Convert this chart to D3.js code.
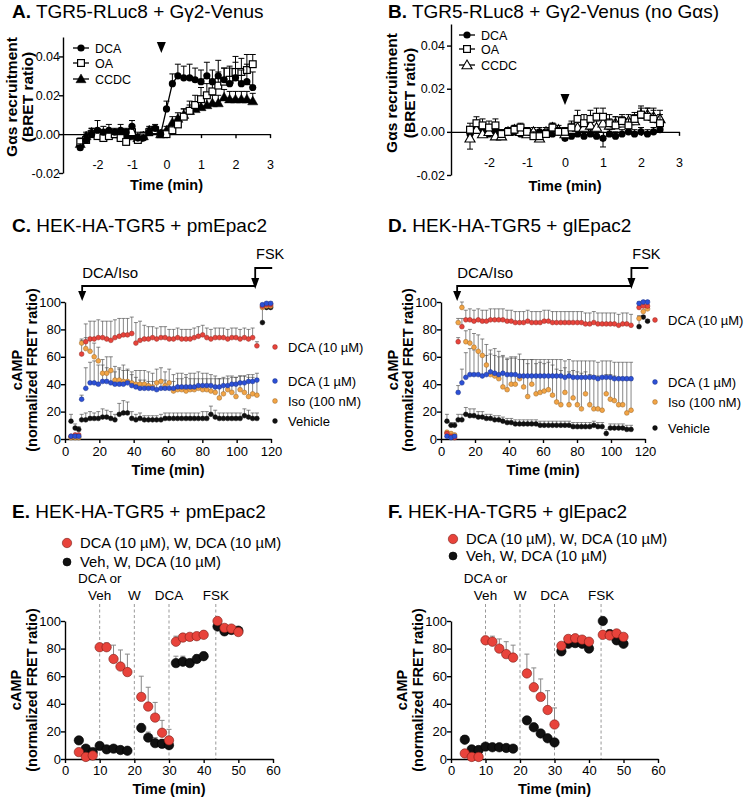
<!DOCTYPE html>
<html><head><meta charset="utf-8">
<script src="https://cdn.jsdelivr.net/npm/d3@7"></script>
<style>
body{margin:0;background:#fff;}
svg{display:block;font-family:"Liberation Sans",Arial,Helvetica,sans-serif;}
</style></head><body>
<svg id="chart" width="745" height="800"></svg>
<script>
// ---------------- DATA ----------------
// Panels A/B: BRET time courses (min)
const timeAB = [-2.5,-2.33,-2.17,-2.0,-1.83,-1.67,-1.5,-1.33,-1.17,-1.0,-0.83,-0.67,-0.5,-0.33,-0.17,0,0.17,0.33,0.5,0.67,0.83,1.0,1.17,1.33,1.5,1.67,1.83,2.0,2.17,2.33,2.5];
const A_DCA = [-0.007,-0.003,0.000,0.002,0.001,0.002,0.001,0.002,0.001,0.004,-0.002,-0.002,0.001,0.003,0.000,0.013,0.026,0.030,0.029,0.029,0.028,0.027,0.030,0.027,0.030,0.028,0.026,0.029,0.026,0.027,0.024];
const A_DCA_err = [0.002,0.003,0.003,0.005,0.003,0.003,0.002,0.003,0.002,0.003,0.003,0.002,0.002,0.002,0.002,0.004,0.005,0.006,0.006,0.007,0.006,0.006,0.007,0.006,0.008,0.006,0.008,0.008,0.007,0.009,0.008];
const A_OA = [-0.004,-0.003,0.000,-0.001,-0.002,-0.001,0.000,-0.002,-0.004,0.001,-0.003,-0.001,0.001,0.002,0.000,0.000,0.002,0.005,0.009,0.012,0.015,0.018,0.020,0.022,0.025,0.027,0.028,0.032,0.032,0.033,0.036];
const A_OA_err = [0.002,0.002,0.002,0.002,0.002,0.002,0.002,0.002,0.002,0.002,0.002,0.002,0.002,0.002,0.002,0.002,0.003,0.004,0.004,0.005,0.005,0.006,0.006,0.006,0.007,0.007,0.007,0.008,0.007,0.008,0.005];
const A_CCDC = [-0.005,-0.001,0.001,0.001,-0.001,0.000,0.000,0.000,-0.001,-0.001,-0.002,-0.001,0.002,0.002,0.000,0.002,0.006,0.008,0.010,0.012,0.013,0.014,0.015,0.016,0.016,0.019,0.018,0.018,0.018,0.018,0.017];
const A_CCDC_err = [0.002,0.002,0.002,0.002,0.002,0.002,0.002,0.002,0.002,0.002,0.002,0.002,0.002,0.002,0.002,0.002,0.003,0.003,0.003,0.003,0.003,0.004,0.004,0.004,0.004,0.004,0.004,0.004,0.004,0.004,0.004];
const B_DCA = [-0.001,0.001,0.001,-0.001,0.000,-0.001,0.000,0.000,-0.001,0.000,-0.001,0.000,0.000,-0.001,0.000,-0.003,-0.002,-0.001,-0.002,-0.001,-0.002,-0.003,-0.001,-0.002,-0.001,0.000,-0.001,0.000,-0.001,0.000,0.001];
const B_DCA_err = [0.002,0.002,0.002,0.002,0.002,0.002,0.002,0.002,0.002,0.002,0.002,0.002,0.002,0.002,0.002,0.002,0.002,0.002,0.002,0.002,0.002,-0.004,0.002,0.002,0.002,0.002,0.002,0.002,0.002,0.002,0.002];
const B_OA = [0.001,0.004,0.003,0.002,0.003,-0.001,0.000,0.001,0.002,0.000,-0.002,-0.002,-0.001,0.002,0.000,0.000,0.002,0.006,0.004,0.006,0.007,0.007,0.004,0.003,0.005,0.003,0.006,0.008,0.007,0.006,0.004];
const B_OA_err = [0.003,0.003,0.003,0.003,0.003,0.002,0.002,0.002,0.002,0.002,0.002,0.002,0.002,0.002,0.002,0.002,0.003,0.004,0.004,0.004,0.004,0.004,0.004,0.004,0.003,0.003,0.003,0.004,0.004,0.005,0.004];
const B_CCDC = [-0.003,0.001,-0.001,0.000,-0.002,-0.002,0.000,0.001,0.000,-0.001,0.000,-0.003,0.000,0.002,0.001,-0.001,0.001,0.002,0.002,0.003,0.002,0.004,0.003,0.004,0.004,0.005,0.005,0.008,0.008,0.007,0.006];
const B_CCDC_err = [-0.005,0.002,0.002,0.002,0.002,0.002,0.002,0.002,0.002,0.002,0.002,0.002,0.002,0.002,0.002,0.002,0.003,0.003,0.003,0.003,0.003,0.003,0.003,0.003,0.003,0.003,0.003,0.003,0.003,0.003,0.004];
const stimA = -0.15, stimB = 0;
const abXTicks = [-2,-1,0,1,2,3];
const abYTicks = [-0.02,0,0.02,0.04];
const abSeriesNames = ["DCA","OA","CCDC"];

// Panels C/D: Epac2 FRET time courses (min)
const timeC = [3.5,5.9,8.0,9.7,12.1,14.6,17.0,19.4,21.9,24.3,26.7,29.1,31.6,34.0,36.4,38.9,41.3,43.7,46.2,48.6,51.0,53.4,55.9,58.3,60.7,63.2,65.6,68.0,70.5,72.9,75.3,77.7,80.2,82.6,85.0,87.5,89.9,92.3,94.8,97.2,99.6,102.0,104.5,106.9,109.3,111.8,115.0,117.4,119.8];
const timeD = [3.5,5.9,8.0,10.1,12.3,14.6,17.0,19.4,21.9,24.3,26.7,29.1,31.6,34.0,36.4,38.9,41.3,43.7,46.2,48.6,51.0,53.4,55.9,58.3,60.7,63.2,65.6,68.0,70.5,72.9,75.3,77.7,80.2,82.6,85.0,87.5,89.9,92.3,94.8,97.2,99.6,102.0,104.5,106.9,109.3,111.8,116.5,119.0,121.5];
const C_DCA10 = [2,3,3,62,71,73,73,74,74,73,72,74,75,76,76,77,70,72,73,73,74,73,74,74,73,73,74,73,73,73,74,75,76,74,73,74,74,74,73,74,74,73,74,73,74,68,97,98,98];
const C_DCA10_err = [0,0,0,10,13,13,13,13,12,13,14,13,13,12,12,12,15,14,10,9,8,8,8,8,7,7,7,7,7,7,7,7,7,7,7,7,7,7,7,7,7,7,7,7,7,3,1,1,1];
const C_DCA1 = [2,2,2,29,37,41,41,40,42,42,41,40,40,40,41,39,38,37,37,37,37,36,37,37,37,37,38,38,38,38,38,39,39,39,39,38,38,39,39,40,40,41,41,42,42,43,98,99,99];
const C_DCA1_err = [0,0,0,3,15,15,16,14,12,10,10,9,12,14,10,8,7,6,6,5,5,6,6,6,5,5,6,6,7,6,6,5,5,5,5,6,6,5,5,5,5,5,5,5,5,5,1,1,1];
const C_Iso = [1,1,1,70,66,64,60,57,48,48,50,43,43,42,42,41,40,40,40,39,38,41,42,39,41,35,36,36,35,36,36,37,36,36,35,34,30,33,36,34,31,36,34,31,33,32,96,97,97];
const C_Iso_err = [0,0,0,3,8,8,10,10,10,12,10,10,8,8,8,8,10,10,10,10,10,10,10,10,10,12,12,12,12,12,12,12,12,12,12,12,14,12,10,12,14,10,12,14,12,12,1,1,1];
const C_Veh = [13,8,7,14,14,15,15,15,16,16,15,14,18,19,19,15,14,15,14,14,14,14,14,15,15,15,15,15,15,15,15,15,15,15,18,16,15,15,15,15,15,15,17,16,15,15,85,96,96];
const C_Veh_err = [5,3,2,4,5,5,4,5,6,5,5,4,8,9,8,5,4,4,3,3,3,3,4,4,4,4,4,4,4,4,4,4,5,5,6,5,4,4,4,4,4,4,5,5,4,4,12,1,1];
const D_DCA10 = [4,2,1,71,82,87,87,86,87,86,86,87,87,87,87,86,86,85,85,85,86,85,85,85,86,86,85,85,85,85,85,85,85,85,84,84,85,84,84,84,84,84,83,84,84,83,96,97,97];
const D_DCA10_err = [0,0,0,3,6,7,8,8,8,8,8,8,8,8,8,8,8,8,8,8,8,8,8,8,8,8,8,8,8,8,8,8,8,8,8,8,8,8,8,8,8,8,8,8,8,8,1,1,1];
const D_DCA1 = [2,1,2,34,41,45,47,47,47,46,47,49,48,47,48,47,47,47,46,46,46,46,46,46,46,46,46,46,46,45,46,45,45,45,45,45,45,44,45,45,45,44,44,44,44,44,99,100,100];
const D_DCA1_err = [0,0,0,5,10,18,19,18,17,15,14,13,13,13,13,12,12,12,12,12,12,12,12,12,12,12,12,12,12,12,12,12,12,12,12,12,12,12,12,12,12,12,12,12,12,12,1,1,1];
const D_Iso = [5,4,3,85,96,71,70,67,64,61,54,47,46,44,38,36,40,40,44,38,31,40,33,34,35,36,32,27,25,34,25,30,25,22,33,25,22,22,21,33,29,28,25,25,19,21,88,93,95];
const D_Iso_err = [0,0,0,3,4,8,10,10,12,12,15,18,20,20,22,22,20,20,18,20,24,18,22,22,20,20,22,24,25,18,24,20,24,26,16,22,24,24,24,14,18,18,20,20,24,22,1,1,1];
const D_Veh = [13,10,10,14,14,18,17,17,16,16,15,15,14,14,13,12,12,11,11,11,11,11,11,10,10,10,10,10,10,10,10,9,9,9,9,9,10,9,9,4,8,8,8,8,7,7,82,89,86];
const D_Veh_err = [5,2,2,4,4,5,5,5,4,4,3,3,3,3,3,3,3,3,3,3,3,3,3,3,3,3,3,3,3,3,3,3,3,3,3,3,3,3,3,3,3,3,3,3,3,3,8,1,1];
const cdLegend = ["DCA (10 µM)","DCA (1 µM)","Iso (100 nM)","Vehicle"];
const stimC = [10, 110.8], stimD = [9.5, 112];
const cdXTicks = [0,20,40,60,80,100,120];
const cdYTicks = [0,20,40,60,80,100];

// Panels E/F: washout experiments
const timeEF = [4,6,8,10,12,14,16,18,22,24,26,28,30,32,34,36,38,40,44,46,48,50];
const E_red = [5,1.5,2.5,81,81,72.5,67,63,45,38,30,19,13.5,85,88,88.5,89,90,100,95,94.5,92];
const E_red_err = [0,0,0,0,3,10,12,13,15,14,11,9,8,4,2,1,1,1,0,0,0,0];
const E_black = [13.5,7.5,5,9.5,7,7.5,6.5,6,22.5,15.5,11.5,11,10,69.5,70.5,69.5,72.5,74.5,96,92.5,93.5,93];
const E_black_err = [0,0,0,2.5,0,0,0,0,3,4,4,3,0,5,4,3,3,3,0,0,0,0];
const F_red = [4,1.5,1.5,86,85,80,76,73.5,62,52,45,35.5,25,82,87,87.5,86.5,85,90,89.5,91,88.5];
const F_red_err = [0,0,0,1,4,7,9,9,14,14,13,14,12,2,1,1,1,1,0,3,1,1];
const F_black = [14,7,6.5,9,8.5,8.5,8,7.5,28,23,18.5,15,12,78,83.5,84,83.5,80,100,90.5,86,83.5];
const F_black_err = [3,0,0,1,0,0,0,0,0,0,0,0,1,0,0,0,0,0,0,3,0,0];
const efLegend = ["DCA (10 µM), W, DCA (10 µM)","Veh, W, DCA (10 µM)"];
const efStim = [10,20,30,43.5];
const efStimLabels = [["DCA or","Veh"],["W"],["DCA"],["FSK"]];
const efXTicks = [0,10,20,30,40,50,60];
const efYTicks = [0,20,40,60,80,100];

// ---------------- DRAWING ----------------
const FONT = '"Liberation Sans", Arial, Helvetica, sans-serif';
const svg = d3.select("#chart");
const RED = "#e8433b", ORANGE = "#f2a445", BLUE = "#2c50d6", BLACK = "#111111";

function title(x, y, letter, rest) {
  const t = svg.append("text").attr("x", x).attr("y", y).attr("font-size", 19).attr("fill", "#000");
  t.append("tspan").attr("font-weight", "bold").text(letter);
  t.append("tspan").text(rest);
}

function axes(xs, ys, o) {
  const gx = svg.append("g").attr("transform", `translate(0,${o.xAxisAt})`)
    .call(d3.axisBottom(xs).tickValues(o.xTicks).tickFormat(o.xFmt).tickSize(4).tickSizeOuter(0));
  gx.selectAll("text").attr("y", o.xLabOff).attr("dy", "0.35em");
  const gy = svg.append("g").attr("transform", `translate(${xs.range()[0]},0)`)
    .call(d3.axisLeft(ys).tickValues(o.yTicks).tickFormat(o.yFmt).tickSize(4).tickSizeOuter(0));
  gy.selectAll("text").attr("x", o.yLabX);
  [gx, gy].forEach(g => {
    g.attr("font-family", null).attr("font-size", null);
    g.selectAll("text").attr("font-size", o.fs).attr("fill", "#000").style("font-family", FONT);
    g.select(".domain").attr("stroke", "#000").attr("stroke-width", 1.4);
    g.selectAll(".tick line").attr("stroke", "#000").attr("stroke-width", 1.4);
  });
}

function xTitle(xs, y) {
  const r = xs.range();
  svg.append("text").attr("x", (r[0] + r[1]) / 2).attr("y", y).attr("text-anchor", "middle")
    .attr("font-weight", "bold").attr("font-size", 14.5).text("Time (min)");
}
function yTitle(lines, xsPos, yc, fs) {
  lines.forEach((l, i) => svg.append("text")
    .attr("transform", `translate(${xsPos[i]},${yc}) rotate(-90)`)
    .attr("text-anchor", "middle").attr("dy", "0.35em")
    .attr("font-weight", "bold").attr("font-size", fs).text(l));
}

function errBars(xs, ys, t, v, e, color, cap, sw) {
  const g = svg.append("g").attr("stroke", color).attr("stroke-width", sw).attr("fill", "none");
  t.forEach((tt, i) => {
    if (!e[i]) return;
    const x = xs(tt), y0 = ys(v[i]), y1 = ys(v[i] + e[i]);
    g.append("line").attr("x1", x).attr("x2", x).attr("y1", y0).attr("y2", y1);
    g.append("line").attr("x1", x - cap).attr("x2", x + cap).attr("y1", y1).attr("y2", y1);
  });
}

function marker(g, kind, x, y) {
  if (kind === "circle") g.append("circle").attr("cx", x).attr("cy", y).attr("r", 3.6).attr("fill", "#000");
  else if (kind === "square") g.append("rect").attr("x", x - 3.4).attr("y", y - 3.4).attr("width", 6.8).attr("height", 6.8).attr("fill", "#fff").attr("stroke", "#000").attr("stroke-width", 1.2);
  else {
    const open = kind === "triOpen";
    g.append("path").attr("d", d3.symbol(d3.symbolTriangle, 44)()).attr("transform", `translate(${x},${y + 0.8})`)
      .attr("fill", open ? "#fff" : "#000").attr("stroke", "#000").attr("stroke-width", open ? 1.1 : 0.5);
  }
}

function bretSeries(xs, ys, t, v, e, kind) {
  errBars(xs, ys, t, v, e, "#000", 3, 1);
  svg.append("path").attr("d", d3.line().x((d, i) => xs(t[i])).y(d => ys(d))(v))
    .attr("fill", "none").attr("stroke", "#000").attr("stroke-width", 1.3);
  const g = svg.append("g");
  t.forEach((tt, i) => marker(g, kind, xs(tt), ys(v[i])));
}

function bretPanel(o) {
  const xs = d3.scaleLinear().domain([-3, 3]).range(o.xr);
  const ys = d3.scaleLinear().domain([-0.02, 0.05]).range(o.yr);
  axes(xs, ys, {xAxisAt: ys(0), xTicks: abXTicks, yTicks: abYTicks, xFmt: d => String(d),
    yFmt: d => d.toFixed(2), xLabOff: o.xLabY - ys(0), yLabX: o.yLabX, fs: 12.5});
  o.drawOrder.forEach(k => { const s = o.series[k]; bretSeries(xs, ys, timeAB, s.v, s.e, s.kind); });
  const ax = xs(o.stim), ay = o.arrowY;
  svg.append("path").attr("d", `M${ax - 4.5},${ay - 6} L${ax + 4.5},${ay - 6} L${ax},${ay + 5} Z`).attr("fill", "#000");
  o.series.forEach((s, i) => {
    const ly = o.legY[i];
    svg.append("line").attr("x1", o.legX - 8).attr("x2", o.legX + 8).attr("y1", ly).attr("y2", ly).attr("stroke", "#000").attr("stroke-width", 1.3);
    marker(svg, s.kind, o.legX, ly);
    svg.append("text").attr("x", o.legX + 14).attr("y", ly + 4.5).attr("font-size", 12.5).text(abSeriesNames[i]);
  });
  xTitle(xs, o.xTitleY);
  yTitle(["Gαs recruitment", "(BRET ratio)"], o.yTitleX, o.yTitleC, 15.5);
}

function epacPanel(o) {
  const xs = d3.scaleLinear().domain([0, 120]).range(o.xr);
  const ys = d3.scaleLinear().domain([0, 100]).range([439, 302]);
  axes(xs, ys, {xAxisAt: 439, xTicks: cdXTicks, yTicks: cdYTicks, xFmt: d => String(d), yFmt: d => String(d), xLabOff: 12, yLabX: -4, fs: 13});
  o.series.forEach(s => errBars(xs, ys, o.t, s.v, s.e, "#555", 2, 0.7));
  o.series.forEach(s => {
    const g = svg.append("g");
    o.t.forEach((tt, i) => g.append("circle").attr("cx", xs(tt)).attr("cy", ys(s.v[i])).attr("r", 2.4)
      .attr("fill", s.c).attr("stroke", d3.color(s.c).darker(1.3)).attr("stroke-width", 0.5));
  });
  o.legend.forEach((l, i) => {
    svg.append("circle").attr("cx", o.legX).attr("cy", l.y).attr("r", 2.4).attr("fill", l.c)
      .attr("stroke", d3.color(l.c).darker(1.3)).attr("stroke-width", 0.5);
    svg.append("text").attr("x", o.legX + 13).attr("y", l.y + 4.5).attr("font-size", 13).text(cdLegend[i]);
  });
  const x1 = xs(o.stim[0]), x2 = xs(o.stim[1]);
  svg.append("path").attr("d", `M${x1},292 V286 H${x2} M${x2},279 V268 H${x2 + 17}`)
    .attr("fill", "none").attr("stroke", "#000").attr("stroke-width", 1.8);
  svg.append("path").attr("d", `M${x1 - 4},291 L${x1 + 4},291 L${x1},301 Z M${x2 - 4},278 L${x2 + 4},278 L${x2},289 Z`).attr("fill", "#000");
  svg.append("text").attr("x", x1).attr("y", 278).attr("font-size", 15).text("DCA/Iso");
  svg.append("text").attr("x", x2 + 15).attr("y", 259).attr("text-anchor", "middle").attr("font-size", 14.5).text("FSK");
  xTitle(xs, 475);
  const ax = o.xr[0];
  yTitle(["cAMP", "(normalized FRET ratio)"], [ax - 48, ax - 33], 370, 14.5);
}

function washPanel(o) {
  const xs = d3.scaleLinear().domain([0, 60]).range(o.xr);
  const ys = d3.scaleLinear().domain([0, 100]).range([759, 621]);
  efStim.forEach((s, i) => {
    svg.append("line").attr("x1", xs(s)).attr("x2", xs(s)).attr("y1", 604).attr("y2", 759)
      .attr("stroke", "#999").attr("stroke-width", 1).attr("stroke-dasharray", "3,2.5");
    const lab = efStimLabels[i];
    lab.forEach((l, j) => svg.append("text").attr("x", xs(s)).attr("y", 600 - (lab.length - 1 - j) * 17)
      .attr("text-anchor", "middle").attr("font-size", 13.5).text(l));
  });
  axes(xs, ys, {xAxisAt: 759, xTicks: efXTicks, yTicks: efYTicks, xFmt: d => String(d), yFmt: d => String(d), xLabOff: 11, yLabX: -4, fs: 13});
  o.series.forEach(s => errBars(xs, ys, timeEF, s.v, s.e, "#888", 2.5, 1));
  o.series.forEach(s => {
    const g = svg.append("g");
    timeEF.forEach((tt, i) => g.append("circle").attr("cx", xs(tt)).attr("cy", ys(s.v[i])).attr("r", 4.7)
      .attr("fill", s.c).attr("stroke", s.c === RED ? "#7a1c16" : "#000").attr("stroke-width", 0.6));
  });
  [RED, BLACK].forEach((c, i) => {
    const ly = o.legY[i];
    svg.append("circle").attr("cx", o.legX).attr("cy", ly).attr("r", c === RED ? 4.7 : 4).attr("fill", c)
      .attr("stroke", c === RED ? "#7a1c16" : "#000").attr("stroke-width", 0.6);
    svg.append("text").attr("x", o.legX + 13).attr("y", ly + 5).attr("font-size", 14.8).text(efLegend[i]);
  });
  xTitle(xs, 794);
  const ax = o.xr[0];
  yTitle(["cAMP", "(normalized FRET ratio)"], [ax - 49, ax - 33], 690, 14.5);
}

title(12, 18, "A.", " TGR5-RLuc8 + Gγ2-Venus");
title(388, 18, "B.", " TGR5-RLuc8 + Gγ2-Venus (no Gαs)");
title(12, 232, "C.", " HEK-HA-TGR5 + pmEpac2");
title(388, 232, "D.", " HEK-HA-TGR5 + glEpac2");
title(12, 518, "E.", " HEK-HA-TGR5 + pmEpac2");
title(388, 518, "F.", " HEK-HA-TGR5 + glEpac2");

bretPanel({xr: [63, 270], yr: [173, 37], xLabY: 165, stim: stimA, arrowY: 48, yLabX: -3,
  series: [{v: A_DCA, e: A_DCA_err, kind: "circle"}, {v: A_OA, e: A_OA_err, kind: "square"}, {v: A_CCDC, e: A_CCDC_err, kind: "tri"}],
  drawOrder: [2, 1, 0], legX: 81, legY: [48, 63, 79], xTitleY: 190, yTitleX: [12, 28], yTitleC: 97});
bretPanel({xr: [451, 679], yr: [175, 24], xLabY: 163, stim: stimB, arrowY: 100, yLabX: -6,
  series: [{v: B_DCA, e: B_DCA_err, kind: "circle"}, {v: B_OA, e: B_OA_err, kind: "square"}, {v: B_CCDC, e: B_CCDC_err, kind: "triOpen"}],
  drawOrder: [0, 2, 1], legX: 467, legY: [35, 49, 65], xTitleY: 191, yTitleX: [392, 410], yTitleC: 93});

epacPanel({xr: [65, 271], t: timeC, stim: stimC, legX: 275,
  series: [{v: C_Veh, e: C_Veh_err, c: BLACK}, {v: C_Iso, e: C_Iso_err, c: ORANGE}, {v: C_DCA10, e: C_DCA10_err, c: RED}, {v: C_DCA1, e: C_DCA1_err, c: BLUE}],
  legend: [{y: 347, c: RED}, {y: 381, c: BLUE}, {y: 401, c: ORANGE}, {y: 421, c: BLACK}]});
epacPanel({xr: [441, 645], t: timeD, stim: stimD, legX: 655,
  series: [{v: D_Veh, e: D_Veh_err, c: BLACK}, {v: D_Iso, e: D_Iso_err, c: ORANGE}, {v: D_DCA10, e: D_DCA10_err, c: RED}, {v: D_DCA1, e: D_DCA1_err, c: BLUE}],
  legend: [{y: 320, c: RED}, {y: 382, c: BLUE}, {y: 402, c: ORANGE}, {y: 428, c: BLACK}]});

washPanel({xr: [65, 273], legX: 67, legY: [543, 562],
  series: [{v: E_black, e: E_black_err, c: BLACK}, {v: E_red, e: E_red_err, c: RED}]});
washPanel({xr: [451, 658], legX: 453, legY: [539, 556],
  series: [{v: F_black, e: F_black_err, c: BLACK}, {v: F_red, e: F_red_err, c: RED}]});
</script>
</body></html>
